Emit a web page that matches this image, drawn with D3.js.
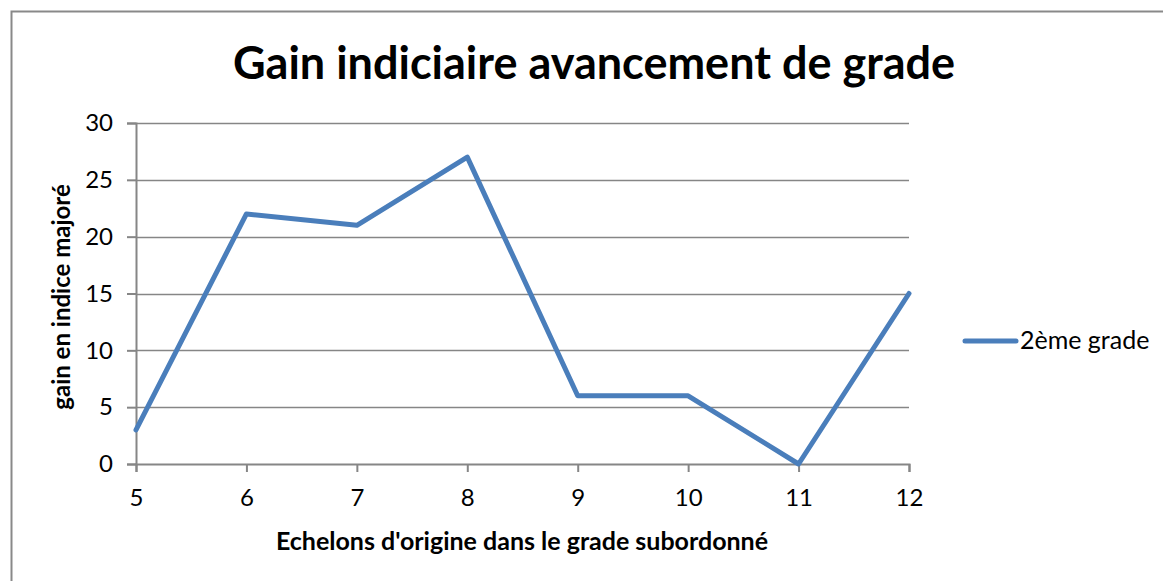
<!DOCTYPE html>
<html>
<head>
<meta charset="utf-8">
<script src="https://cdn.jsdelivr.net/npm/d3@7"></script>
<style>
  body { margin: 0; background: #fff; }
  svg { display: block; font-family: Lato, "Open Sans", sans-serif; }
</style>
</head>
<body>
<svg id="chart"></svg>
<script>
const echelons = [5, 6, 7, 8, 9, 10, 11, 12];
const gains = [3, 22, 21, 27, 6, 6, 0, 15];
const yTicks = [0, 5, 10, 15, 20, 25, 30];
const seriesName = "2ème grade";
const chartTitle = "Gain indiciaire avancement de grade";
const xTitle = "Echelons d'origine dans le grade subordonné";
const yTitle = "gain en indice majoré";

const width = 1163;
const height = 581;
const margin = { top: 123, right: 254, bottom: 117, left: 136 };
const lineColor = "#4a7ebb";
const gridColor = "#868686";

const svg = d3.select("#chart").attr("width", width).attr("height", height);

// outer frame
svg.append("rect")
  .attr("x", 11.5).attr("y", 11.5)
  .attr("width", width + 20).attr("height", height + 20)
  .attr("fill", "none").attr("stroke", "#898989").attr("stroke-width", 2);

const sx = d3.scaleLinear().domain([5, 12]).range([margin.left, width - margin.right]);
const sy = d3.scaleLinear().domain([0, 30]).range([height - margin.bottom, margin.top]);

// gridlines
svg.append("g")
  .selectAll("line")
  .data(yTicks.filter(d => d > 0))
  .enter()
  .append("line")
  .attr("x1", sx(5)).attr("x2", sx(12))
  .attr("y1", d => Math.round(sy(d)) + 0.5)
  .attr("y2", d => Math.round(sy(d)) + 0.5)
  .attr("stroke", gridColor).attr("stroke-width", 1.5);

// y axis
const yAxis = svg.append("g")
  .attr("transform", `translate(${sx(5)},0)`)
  .call(d3.axisLeft(sy).tickValues(yTicks).tickSize(9).tickPadding(14));
yAxis.select(".domain").attr("stroke", gridColor).attr("stroke-width", 2);
yAxis.selectAll(".tick line").attr("stroke", gridColor).attr("stroke-width", 2);
yAxis.selectAll("text").attr("font-size", 24).attr("fill", "#000")
  .attr("font-family", "Lato, sans-serif");

// x axis
const xAxis = svg.append("g")
  .attr("transform", `translate(0,${sy(0)})`)
  .call(d3.axisBottom(sx).tickValues(echelons).tickFormat(d3.format("d")).tickSize(8).tickPadding(17));
xAxis.select(".domain").attr("stroke", gridColor).attr("stroke-width", 2);
xAxis.selectAll(".tick line").attr("stroke", gridColor).attr("stroke-width", 2);
xAxis.selectAll("text").attr("font-size", 24).attr("fill", "#000")
  .attr("font-family", "Lato, sans-serif");

// series line
const line = d3.line()
  .x((d, i) => sx(echelons[i]))
  .y(d => sy(d));

svg.append("path")
  .datum(gains)
  .attr("d", line)
  .attr("fill", "none")
  .attr("stroke", lineColor)
  .attr("stroke-width", 5)
  .attr("stroke-linejoin", "round")
  .attr("stroke-linecap", "round");

// title
svg.append("text")
  .attr("x", 594).attr("y", 79)
  .attr("text-anchor", "middle")
  .attr("font-size", 45).attr("font-weight", "bold")
  .text(chartTitle);

// axis titles
svg.append("text")
  .attr("x", 522).attr("y", 550)
  .attr("text-anchor", "middle")
  .attr("font-size", 25).attr("font-weight", "bold")
  .text(xTitle);

svg.append("text")
  .attr("transform", "translate(70,297) rotate(-90)")
  .attr("text-anchor", "middle")
  .attr("font-size", 24).attr("font-weight", "bold")
  .text(yTitle);

// legend
const legend = svg.append("g").attr("transform", "translate(965,341)");
legend.append("line")
  .attr("x1", 0).attr("x2", 51)
  .attr("stroke", lineColor).attr("stroke-width", 5)
  .attr("stroke-linecap", "round");
legend.append("text")
  .attr("x", 55).attr("y", 8)
  .attr("font-size", 25)
  .text(seriesName);
</script>
</body>
</html>
